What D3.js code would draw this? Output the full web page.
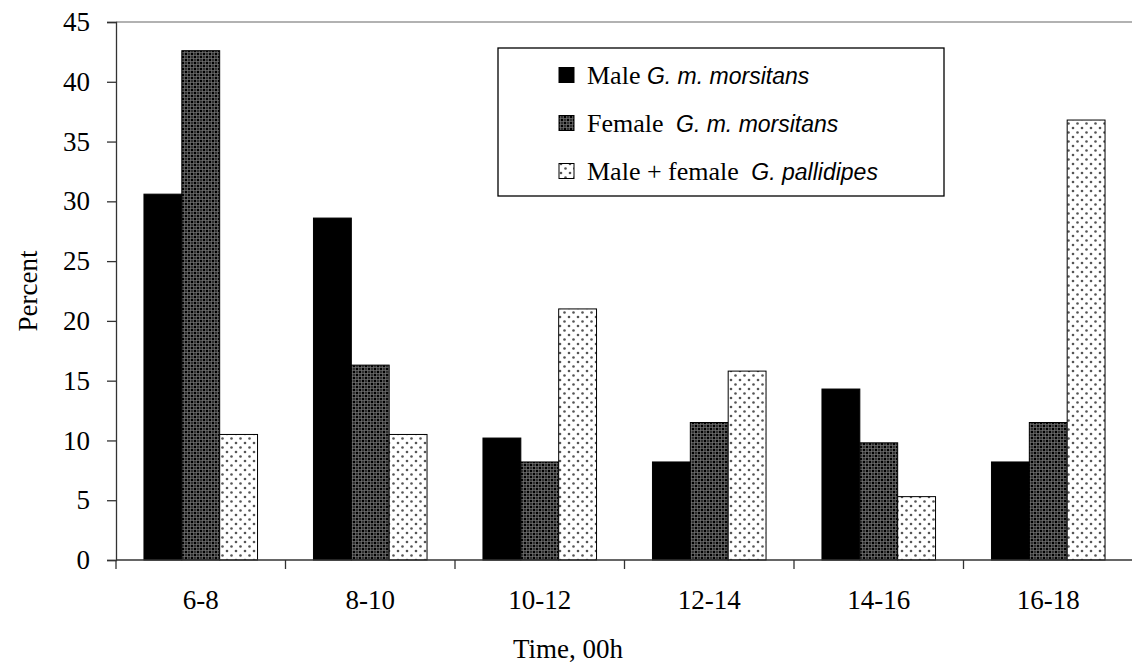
<!DOCTYPE html>
<html>
<head>
<meta charset="utf-8">
<script src="https://cdn.jsdelivr.net/npm/d3@7"></script>
<style>
  body { margin: 0; background: #fff; }
  svg text { font-family: "Liberation Serif", "Times New Roman", serif; fill: #000; }
</style>
</head>
<body>
<svg width="1132" height="666"></svg>
<script>
(function () {

  const categories = ['6-8', '8-10', '10-12', '12-14', '14-16', '16-18'];
  const maleMorsitans = [30.6, 28.6, 10.2, 8.2, 14.3, 8.2];
  const femaleMorsitans = [42.6, 16.3, 8.2, 11.5, 9.8, 11.5];
  const pallidipes = [10.5, 10.5, 21.0, 15.8, 5.3, 36.8];
  const yTicks = [0, 5, 10, 15, 20, 25, 30, 35, 40, 45];

  const series = [
    { key: 'male', plain: 'Male', italic: 'G. m. morsitans', values: maleMorsitans, fill: '#000' },
    { key: 'female', plain: 'Female', italic: 'G. m. morsitans', values: femaleMorsitans, fill: 'url(#cross)' },
    { key: 'pall', plain: 'Male + female', italic: 'G. pallidipes', values: pallidipes, fill: 'url(#dots)' }
  ];

  const svg = d3.select('svg');
  const left = 116, top = 22, bottom = 560, right = 1132;

  // patterns
  const defs = svg.append('defs');
  const cross = defs.append('pattern').attr('id', 'cross')
    .attr('patternUnits', 'userSpaceOnUse').attr('width', 6).attr('height', 6);
  cross.append('rect').attr('width', 6).attr('height', 6).attr('fill', '#000');
  [[0, 0], [6, 0], [0, 6], [6, 6], [3, 3]].forEach(([x, y]) =>
    cross.append('circle').attr('cx', x).attr('cy', y).attr('r', 1.9)
      .attr('fill', 'none').attr('stroke', '#8a8a8a').attr('stroke-width', 0.8));

  const dots = defs.append('pattern').attr('id', 'dots')
    .attr('patternUnits', 'userSpaceOnUse').attr('width', 9).attr('height', 9);
  dots.append('rect').attr('width', 9).attr('height', 9).attr('fill', '#fff');
  [[2, 2], [6.5, 6.5]].forEach(([x, y]) =>
    dots.append('circle').attr('cx', x).attr('cy', y).attr('r', 1.3).attr('fill', '#555'));

  const x = d3.scaleBand().domain(categories).range([left, left + 6 * 169.5]).paddingInner(0.33).paddingOuter(0.165);
  const xs = d3.scaleBand().domain(series.map(s => s.key)).range([0, x.bandwidth()]);
  const y = d3.scaleLinear().domain([0, 45]).range([bottom, top]);

  // top border of plot area
  svg.append('line').attr('x1', left).attr('x2', right).attr('y1', top).attr('y2', top)
    .attr('stroke', '#999').attr('stroke-width', 1.5);

  // bars
  series.forEach(s => {
    svg.append('g').selectAll('rect').data(s.values).join('rect')
      .attr('x', (d, i) => x(categories[i]) + xs(s.key))
      .attr('y', d => y(d))
      .attr('width', xs.bandwidth())
      .attr('height', d => bottom - y(d))
      .attr('fill', s.fill)
      .attr('stroke', '#000').attr('stroke-width', 1);
  });

  // y axis
  const yAxis = svg.append('g').attr('transform', `translate(${left},0)`)
    .call(d3.axisLeft(y).tickValues(yTicks).tickSize(9).tickPadding(17));
  yAxis.select('.domain').attr('stroke', '#333').attr('stroke-width', 1.3);
  yAxis.selectAll('.tick line').attr('stroke', '#333').attr('stroke-width', 1.3);
  yAxis.selectAll('text').style('font-size', '27px').attr('fill', '#000')
    .style('font-family', '"Liberation Serif", serif');

  // x axis
  const bounds = d3.range(categories.length + 1).map(i => left + i * 169.5);
  svg.append('line').attr('x1', left).attr('x2', right).attr('y1', bottom).attr('y2', bottom)
    .attr('stroke', '#333').attr('stroke-width', 1.3);
  svg.append('g').selectAll('line').data(bounds).join('line')
    .attr('x1', d => d).attr('x2', d => d).attr('y1', bottom).attr('y2', bottom + 9)
    .attr('stroke', '#333').attr('stroke-width', 1.3);
  svg.append('g').selectAll('text').data(categories).join('text')
    .attr('x', d => x(d) + x.bandwidth() / 2).attr('y', 609)
    .attr('text-anchor', 'middle').style('font-size', '27px').text(d => d);

  // axis titles
  svg.append('text').attr('x', 568).attr('y', 658).attr('text-anchor', 'middle')
    .style('font-size', '27px').text('Time, 00h');
  svg.append('text').attr('transform', 'translate(37,291) rotate(-90)').attr('text-anchor', 'middle')
    .style('font-size', '27px').text('Percent');

  // legend
  const lg = svg.append('g');
  lg.append('rect').attr('x', 498).attr('y', 48).attr('width', 446).attr('height', 148)
    .attr('fill', '#fff').attr('stroke', '#000').attr('stroke-width', 1.3);
  const items = lg.selectAll('g.item').data(series).join('g')
    .attr('transform', (d, i) => `translate(559,${75 + i * 48})`);
  items.append('rect').attr('x', 0).attr('y', -7.5).attr('width', 15).attr('height', 15)
    .attr('fill', d => d.fill).attr('stroke', '#000').attr('stroke-width', 1);
  const t = items.append('text').attr('x', 28).attr('y', 9).style('font-size', '26px');
  t.append('tspan').text(d => d.plain + ' ');
  t.append('tspan').text(d => d.italic).attr('dx', d => d.key === 'male' ? 0 : 6)
    .style('font-family', '"Liberation Sans", Arial, sans-serif')
    .style('font-style', 'italic').style('font-size', '23px');

})();
</script>
</body>
</html>
